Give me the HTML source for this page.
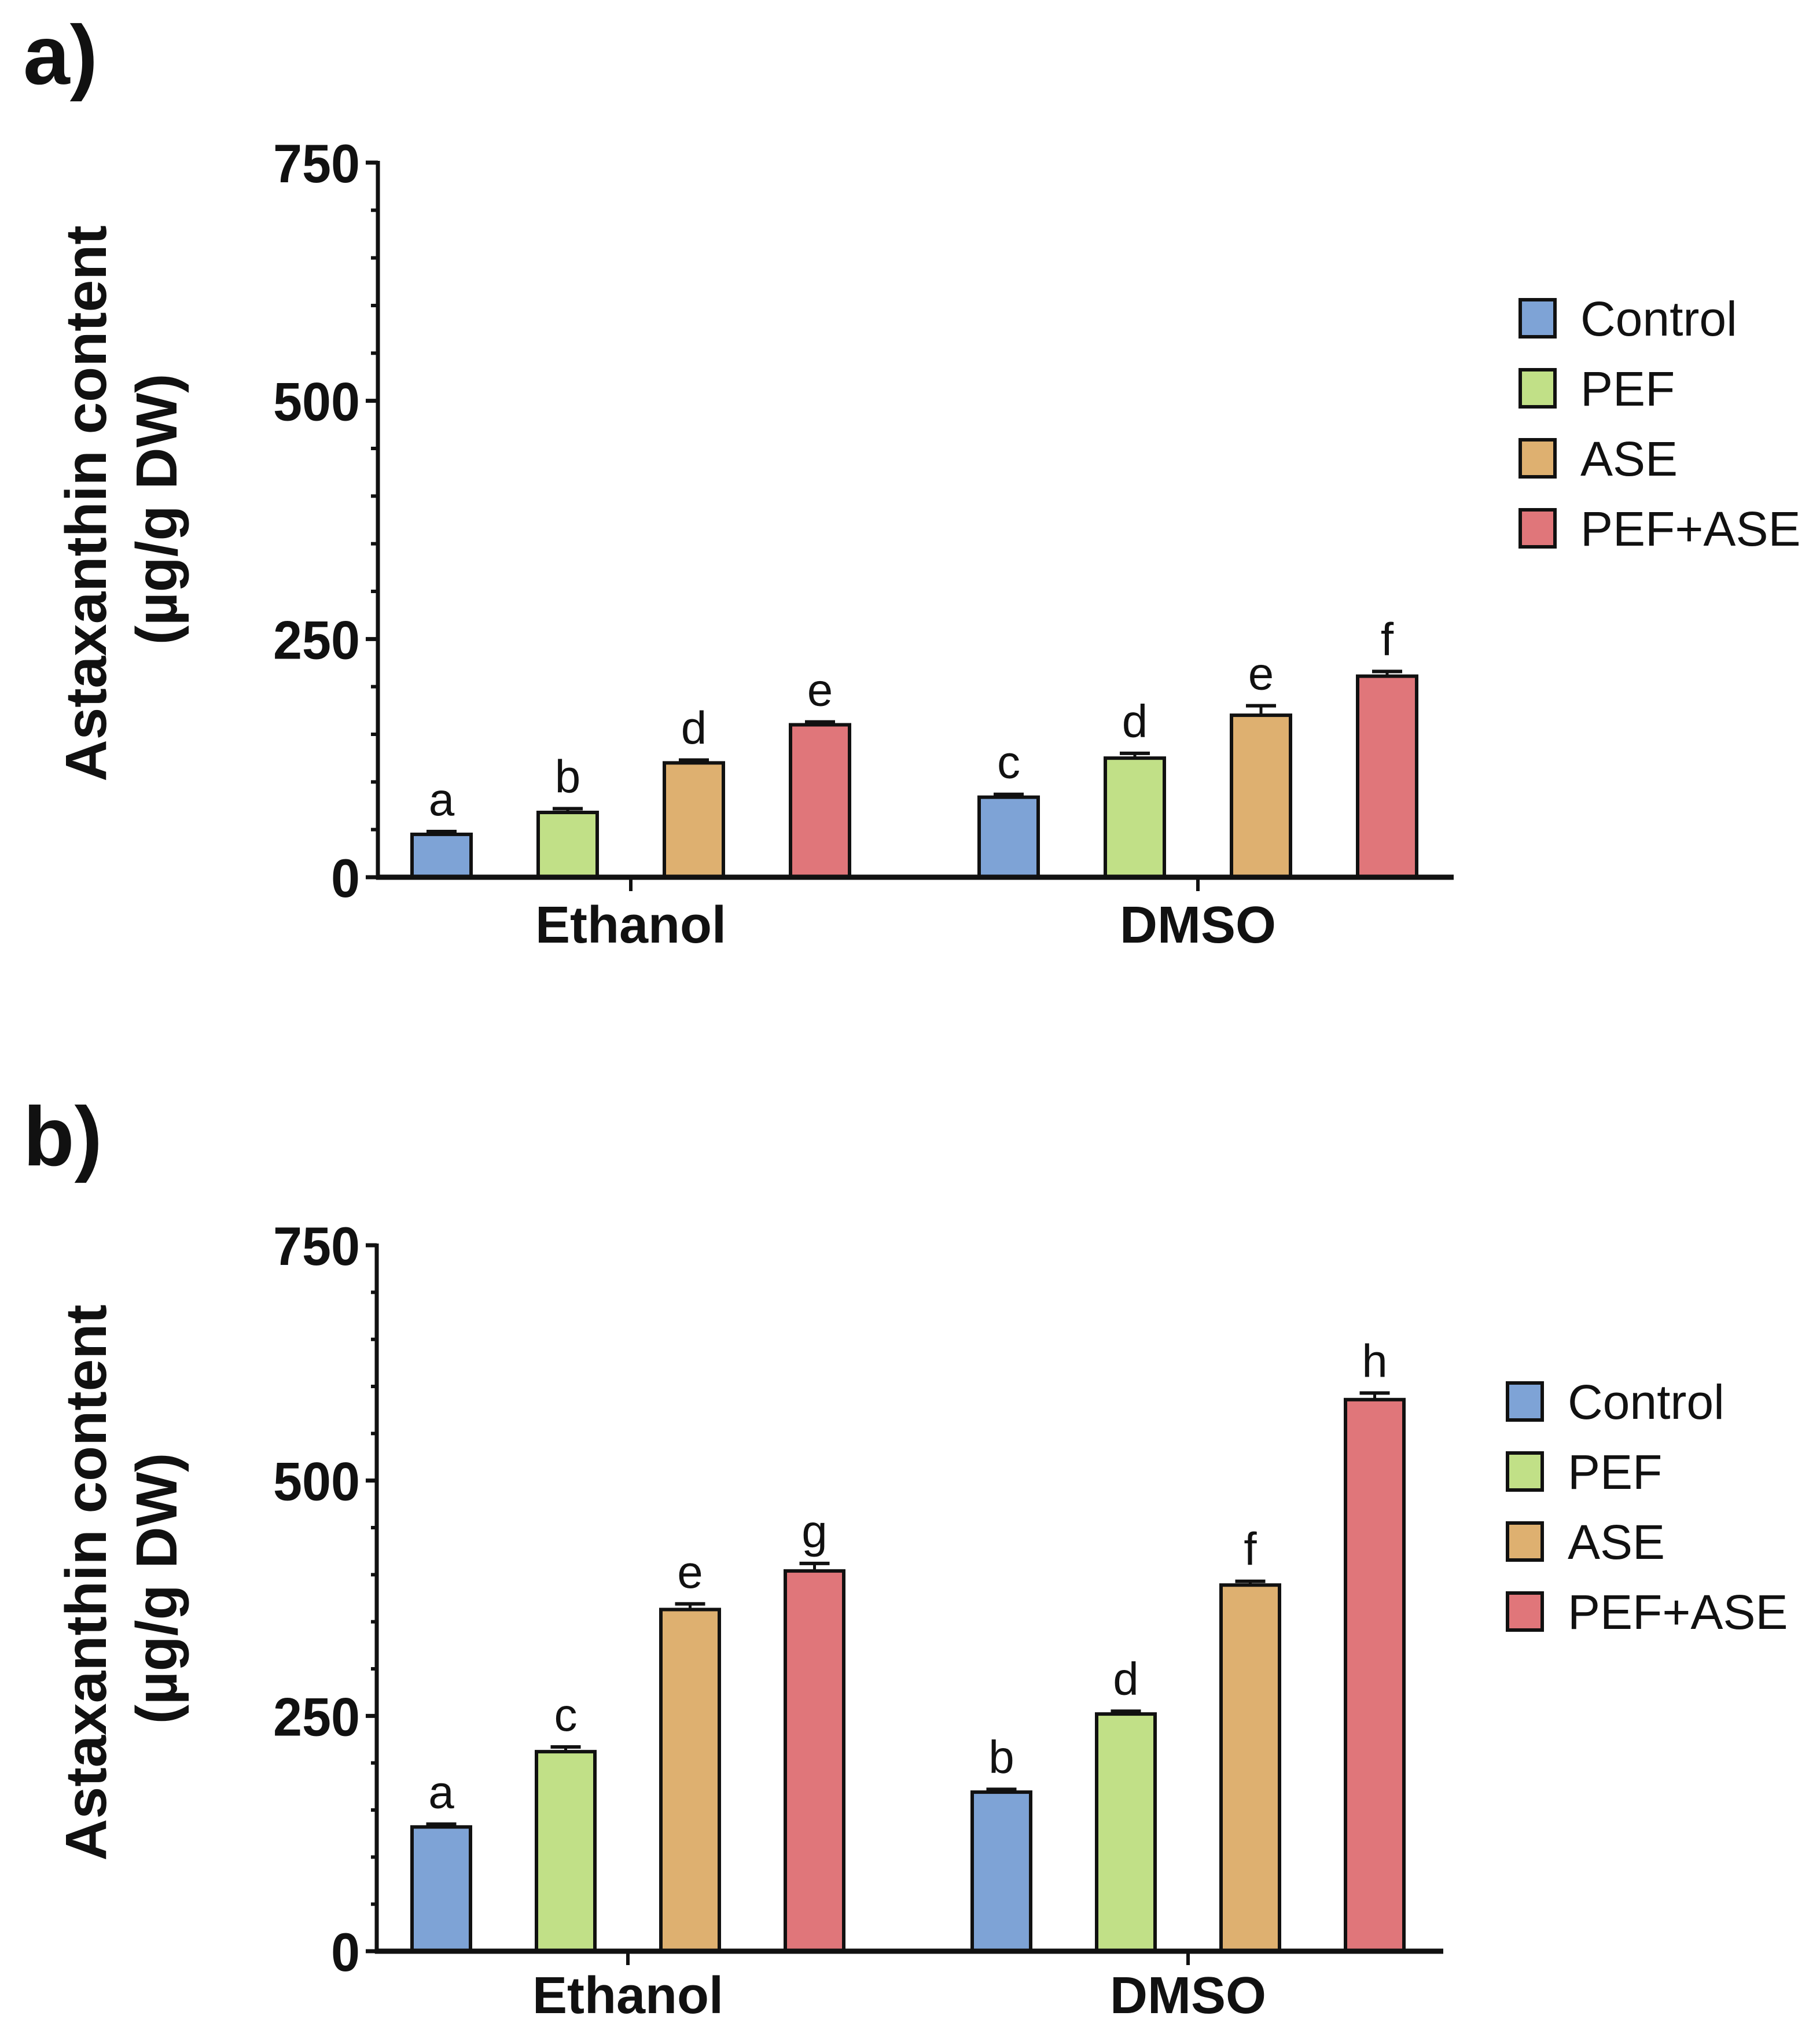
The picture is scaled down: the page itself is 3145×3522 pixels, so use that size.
<!DOCTYPE html>
<html><head><meta charset="utf-8"><style>
html,body{margin:0;padding:0;background:#fff;}
svg{display:block;}
text{font-family:"Liberation Sans",Arial,sans-serif;fill:#111;}
</style></head>
<body>
<svg id="fig" width="3145" height="3522" viewBox="0 0 3145 3522" xmlns="http://www.w3.org/2000/svg">
<rect width="3145" height="3522" fill="#fff"/>
</svg>
<script>
const categories = ["Ethanol", "DMSO"];
const seriesNames = ["Control", "PEF", "ASE", "PEF+ASE"];
const colors = ["#7ea3d6", "#c1e087", "#deb070", "#e0767a"];
const yTicks = [0, 250, 500, 750];
const valuesA = [[45, 68, 120, 160], [84, 125, 170, 211]];
const errorsA = [[3, 4, 3, 3], [3, 5, 10, 5]];
const lettersA = [["a", "b", "d", "e"], ["c", "d", "e", "f"]];
const valuesB = [[132, 212, 363, 404], [169, 252, 389, 586]];
const errorsB = [[3, 5, 6, 8], [3, 3, 4, 7]];
const lettersB = [["a", "c", "e", "g"], ["b", "d", "f", "h"]];

const NS = "http://www.w3.org/2000/svg";
const svg = document.getElementById("fig");
function mk(tag, attrs, parent, txt) {
  const e = document.createElementNS(NS, tag);
  for (const k in attrs) e.setAttribute(k, attrs[k]);
  if (txt !== undefined) e.textContent = txt;
  (parent || svg).appendChild(e);
  return e;
}

function panel(cfg) {
  const g = mk("g", {});
  
  
  const y = v => cfg.y0 - (v / 750) * (cfg.y0 - cfg.y750);
  const pl = mk("text", {x: 40, y: cfg.labelY, "font-size": 145, "font-weight": "bold"}, g, cfg.label);
  
  
  const t1 = mk("text", {x: 0, y: 0, "font-size": 100, "font-weight": "bold", "text-anchor": "middle",
    transform: `translate(183,${cfg.titleY}) rotate(-90)`}, g, "Astaxanthin content");
  
  
  const t2 = mk("text", {x: 0, y: 0, "font-size": 100, "font-weight": "bold", "text-anchor": "middle",
    transform: `translate(305,${cfg.titleY + 10}) rotate(-90)`}, g, "(\u00b5g/g DW)");
  
  
  for (let v = 0; v <= 750; v += 50) {
    const major = v % 250 === 0;
    const tk = mk("line", {x1: major ? 632 : 641, x2: cfg.ax, y1: y(v), y2: y(v), stroke: "#111", "stroke-width": major ? 7 : 6}, g);
    
    
  }
  yTicks.forEach(v => {
    const tl = mk("text", {x: 622, y: y(v) + 34, "font-size": 94, "font-weight": "bold", "text-anchor": "end",
      "textLength": String(v).length * 50, "lengthAdjust": "spacingAndGlyphs"}, g, String(v));
    
    
  });
  categories.forEach((cat, ci) => {
    const cx = cfg.groupX[ci];
    cfg.values[ci].forEach((val, si) => {
      const bx = cx + (si - 1.5) * cfg.step;
      const top = y(val), etop = y(val + cfg.errors[ci][si]);
      const eb = mk("line", {x1: bx, x2: bx, y1: etop, y2: top, stroke: "#111", "stroke-width": 5}, g);
      
      
      const cap = mk("line", {x1: bx - 26, x2: bx + 26, y1: etop, y2: etop, stroke: "#111", "stroke-width": 6}, g);
      
      
      const r = mk("rect", {x: bx - cfg.bw / 2, y: top, width: cfg.bw, height: cfg.y0 - top, fill: colors[si], stroke: "#111", "stroke-width": 6}, g);
      
      
      const lt = mk("text", {x: bx, y: etop - 28, "font-size": 80, "text-anchor": "middle"}, g, cfg.letters[ci][si]);
      
      
    });
    const xt = mk("line", {x1: cx, x2: cx, y1: cfg.y0, y2: cfg.y0 + 24, stroke: "#111", "stroke-width": 6}, g);
    
    
    const cl = mk("text", {x: cx, y: cfg.catY, "font-size": 90, "font-weight": "bold", "text-anchor": "middle"}, g, cat);
    
    
  });
  const ya = mk("line", {x1: cfg.ax, x2: cfg.ax, y1: cfg.y750 - 3, y2: cfg.y0 + 4, stroke: "#111", "stroke-width": 7}, g);
  
  
  const xa = mk("line", {x1: cfg.ax - 3, x2: cfg.xEnd, y1: cfg.y0, y2: cfg.y0, stroke: "#111", "stroke-width": 9}, g);
  
  
  seriesNames.forEach((s, i) => {
    const by = cfg.legY + i * 121;
    const sq = mk("rect", {x: cfg.legX, y: by - 62, width: 60, height: 64, fill: colors[i], stroke: "#111", "stroke-width": 6}, g);
    
    
    const lt = mk("text", {x: cfg.legX + 104, y: by, "font-size": 84}, g, s);
    
    
  });
}

panel({name: "panel-a", label: "a)", labelY: 145, y0: 1516, y750: 281, ax: 653, xEnd: 2512,
  groupX: [1090, 2070], step: 218, bw: 102, values: valuesA, errors: errorsA, letters: lettersA,
  catY: 1629, titleY: 870, legX: 2627, legY: 580});
panel({name: "panel-b", label: "b)", labelY: 2014, y0: 3372, y750: 2152, ax: 651, xEnd: 2494,
  groupX: [1085, 2053], step: 215, bw: 101, values: valuesB, errors: errorsB, letters: lettersB,
  catY: 3479, titleY: 2735, legX: 2605, legY: 2452});
</script>
</body></html>
